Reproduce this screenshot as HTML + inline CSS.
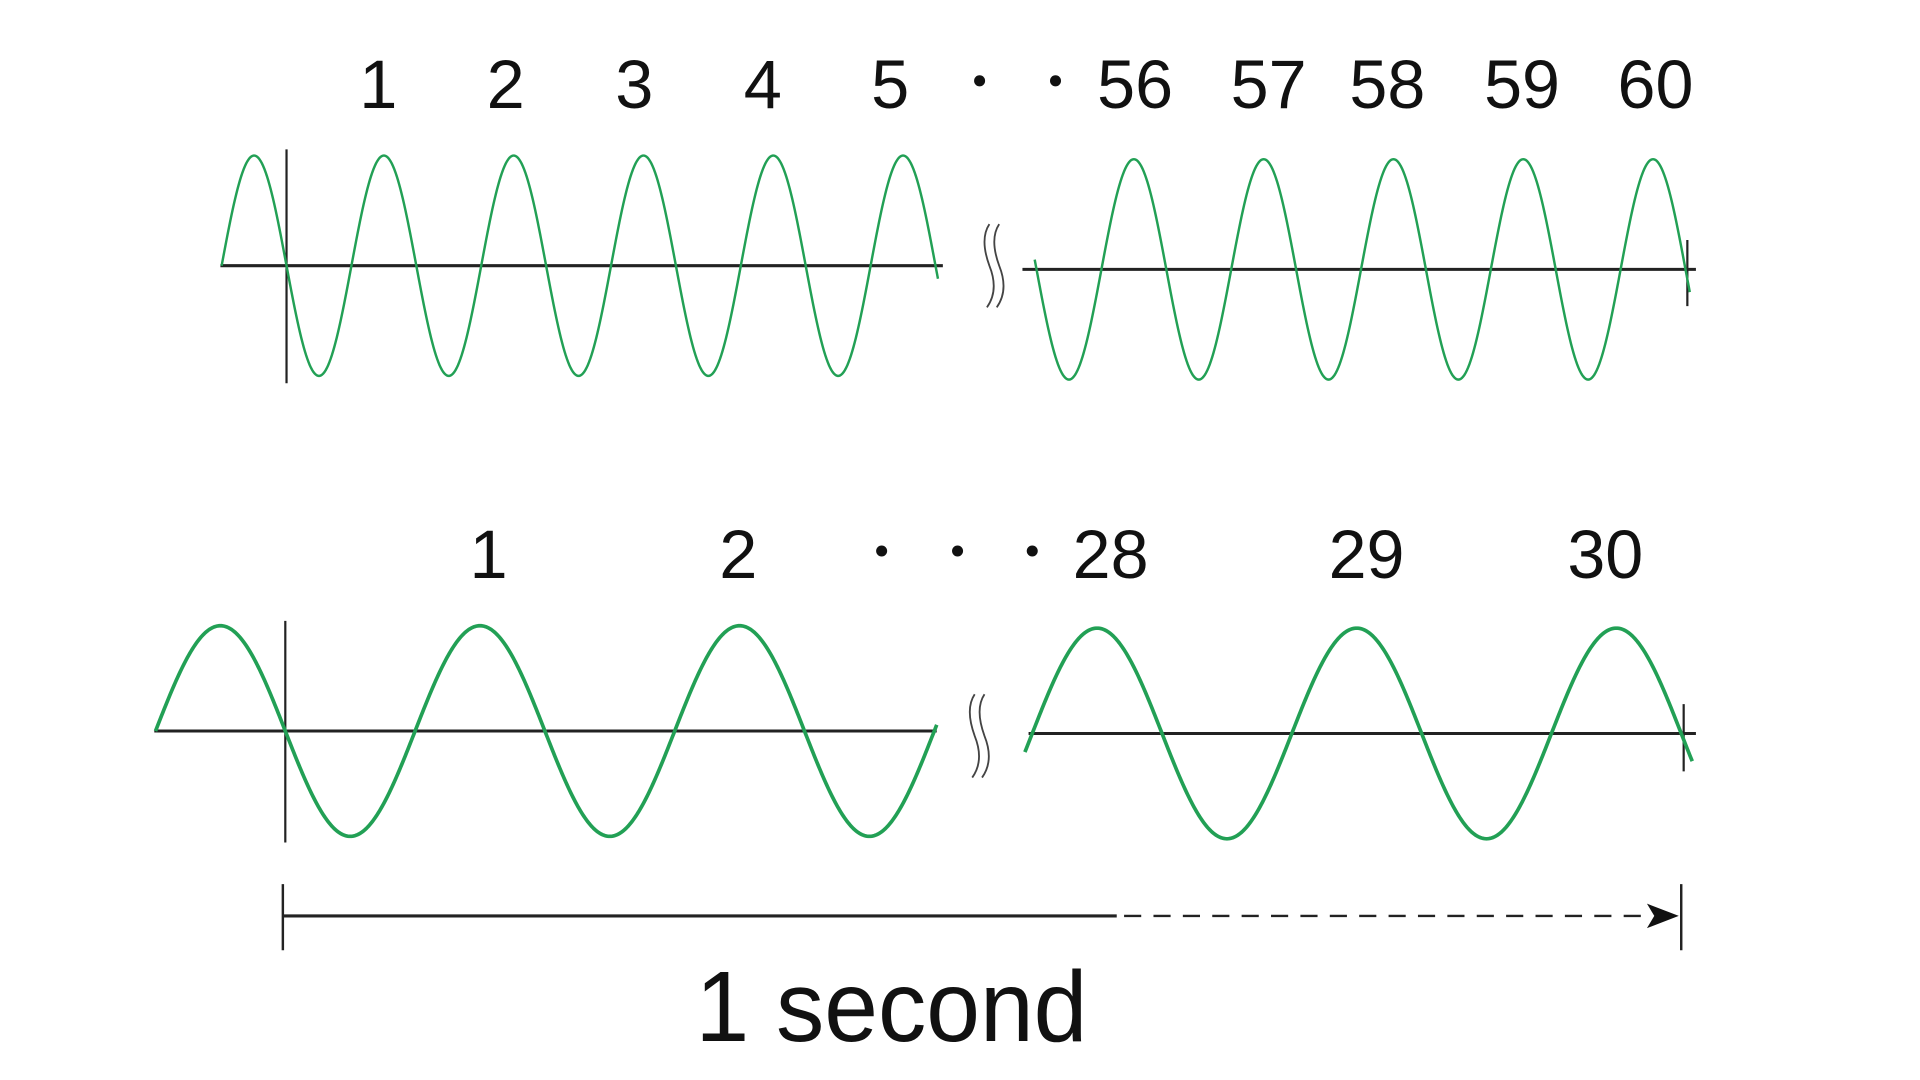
<!DOCTYPE html>
<html><head><meta charset="utf-8"><style>
html,body{margin:0;padding:0;background:#fff;width:1920px;height:1080px;overflow:hidden}
svg{display:block}
text{font-family:"Liberation Sans Narrow","Liberation Sans",sans-serif;fill:#111}
</style></head><body>
<svg id="s" width="1920" height="1080" viewBox="0 0 1568 882" preserveAspectRatio="none" xmlns="http://www.w3.org/2000/svg">
<g stroke="#222" fill="none">
<line x1="180" y1="217" x2="770" y2="217" stroke-width="2.5"/>
<line x1="835" y1="220" x2="1385" y2="220" stroke-width="2.5"/>
<line x1="234" y1="122" x2="234" y2="313" stroke-width="1.8"/>
<line x1="1378" y1="196" x2="1378" y2="250" stroke-width="1.8"/>
<line x1="126" y1="597" x2="765" y2="597" stroke-width="2.5"/>
<line x1="840" y1="599" x2="1385" y2="599" stroke-width="2.5"/>
<line x1="233" y1="507" x2="233" y2="688" stroke-width="1.8"/>
<line x1="1375" y1="575" x2="1375" y2="630" stroke-width="1.8"/>
<line x1="231" y1="722" x2="231" y2="776" stroke-width="2"/>
<line x1="1373" y1="722" x2="1373" y2="776" stroke-width="2"/>
<line x1="231" y1="748" x2="912" y2="748" stroke-width="2.5"/>
<line x1="918" y1="748" x2="1350" y2="748" stroke-width="2" stroke-dasharray="14 10"/>
<path d="M808 183 q-8 12 0 34 q8 20 -2 34 M816 183 q-8 12 0 34 q8 20 -2 34" stroke-width="1.5" stroke="#444"/>
<path d="M796 567 q-8 12 0 34 q8 20 -2 34 M804 567 q-8 12 0 34 q8 20 -2 34" stroke-width="1.5" stroke="#444"/>
</g>
<polygon points="1345,738 1371,748 1345,758 1351,748" fill="#111"/>
<g id="w" fill="none" stroke="#22a055"></g>
<g fill="#111">
<circle cx="800" cy="66" r="4.5"/><circle cx="862" cy="66" r="4.5"/>
<circle cx="720" cy="450" r="4.5"/><circle cx="782" cy="450" r="4.5"/><circle cx="843" cy="450" r="4.5"/>
</g>
<g font-size="56" text-anchor="middle">
<text x="309" y="88">1</text><text x="413" y="88">2</text><text x="518" y="88">3</text><text x="623" y="88">4</text><text x="727" y="88">5</text>
<text x="927" y="88" textLength="62" lengthAdjust="spacingAndGlyphs">56</text><text x="1036" y="88" textLength="62" lengthAdjust="spacingAndGlyphs">57</text><text x="1133" y="88" textLength="62" lengthAdjust="spacingAndGlyphs">58</text><text x="1243" y="88" textLength="62" lengthAdjust="spacingAndGlyphs">59</text><text x="1352" y="88" textLength="62" lengthAdjust="spacingAndGlyphs">60</text>
<text x="399" y="472">1</text><text x="603" y="472">2</text>
<text x="907" y="472" textLength="62" lengthAdjust="spacingAndGlyphs">28</text><text x="1116" y="472" textLength="62" lengthAdjust="spacingAndGlyphs">29</text><text x="1311" y="472" textLength="62" lengthAdjust="spacingAndGlyphs">30</text>
</g>
<text x="568" y="850" font-size="82" textLength="320" lengthAdjust="spacingAndGlyphs">1 second</text>
</svg>
<script>
function wave(x0,x1,base,amp,per,ph,sw){
 let d='';for(let x=x0;x<=x1;x+=1){const y=base-amp*Math.sin(2*Math.PI*(x-ph)/per);d+=(d?'L':'M')+x+' '+y.toFixed(2);}
 const p=document.createElementNS('http://www.w3.org/2000/svg','path');p.setAttribute('d',d);p.setAttribute('stroke-width',sw);
 document.getElementById('w').appendChild(p);}
wave(181,766,217,90,106,181,2);
wave(845,1380,220,90,106,899.5,2);
wave(127,765,597,86,212,127,3);
wave(837,1382,599,86,212,843,3);
</script>
</body></html>
